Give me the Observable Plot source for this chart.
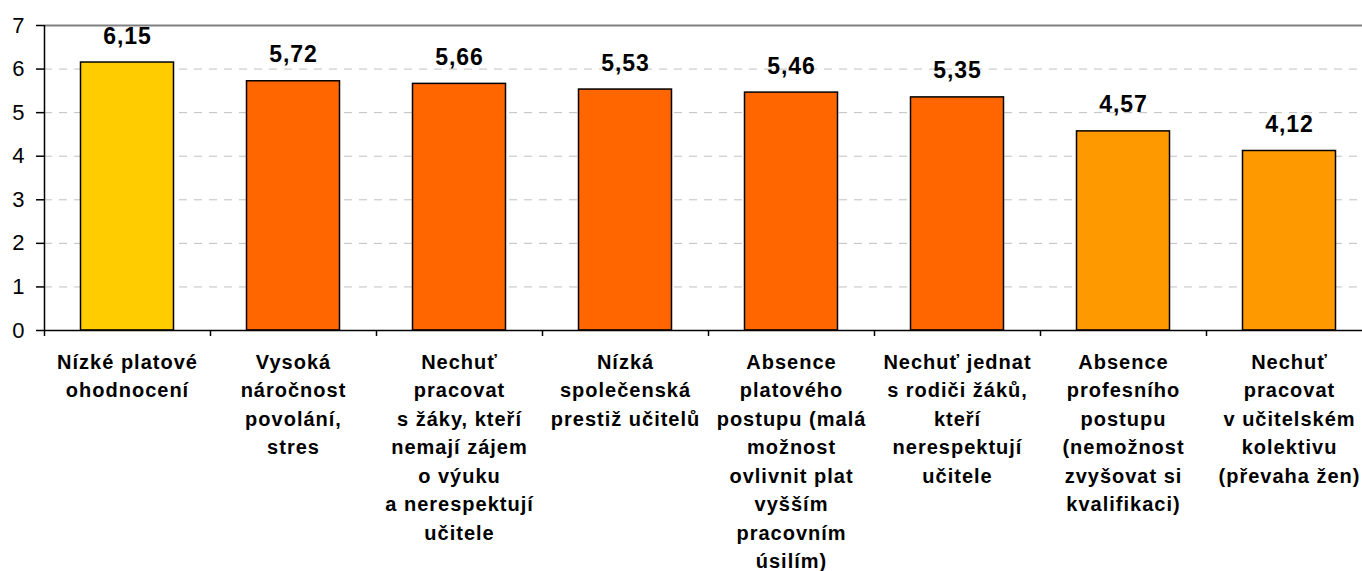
<!DOCTYPE html>
<html><head><meta charset="utf-8">
<script src="https://cdn.jsdelivr.net/npm/d3@7"></script>
<script src="https://cdn.jsdelivr.net/npm/@observablehq/plot@0.6"></script>
<style>
body{margin:0;background:#fff;}
#chart svg{display:block;font-family:"Liberation Sans",Arial,sans-serif;}
</style>
</head><body><div id="chart"></div>
<script>
const categories = [
  "Nízké platové\nohodnocení",
  "Vysoká\nnáročnost\npovolání,\nstres",
  "Nechuť\npracovat\ns žáky, kteří\nnemají zájem\no výuku\na nerespektují\nučitele",
  "Nízká\nspolečenská\nprestiž učitelů",
  "Absence\nplatového\npostupu (malá\nmožnost\novlivnit plat\nvyšším\npracovním\núsilím)",
  "Nechuť jednat\ns rodiči žáků,\nkteří\nnerespektují\nučitele",
  "Absence\nprofesního\npostupu\n(nemožnost\nzvyšovat si\nkvalifikaci)",
  "Nechuť\npracovat\nv učitelském\nkolektivu\n(převaha žen)"
];
const values = [6.15, 5.72, 5.66, 5.53, 5.46, 5.35, 4.57, 4.12];
const colors = ["#FFCC00", "#FF6600", "#FF6600", "#FF6600", "#FF6600", "#FF6600", "#FF9900", "#FF9900"];
const yTicks = [0, 1, 2, 3, 4, 5, 6, 7];
const gridTicks = [1, 2, 3, 4, 5, 6];

const W = 1362, H = 571, mL = 44, mR = -10, mT = 25, mB = 241;
const step = (W - mL - mR) / categories.length;
const barInset = 36.5;

const data = categories.map((c, i) => ({cat: c, value: values[i], color: colors[i]}));
const fmt = v => d3.format(".2f")(v).replace(".", ",");

const svg = Plot.plot({
  width: W, height: H,
  marginLeft: mL, marginRight: mR, marginTop: mT, marginBottom: mB,
  style: {fontFamily: '"Liberation Sans", Arial, sans-serif', background: "#fff", overflow: "visible"},
  x: {domain: categories, padding: 0, axis: null, label: null},
  y: {domain: [0, 7], axis: null, label: null},
  marks: [
    Plot.ruleY(gridTicks, {stroke: "#c0c0c0", strokeWidth: 1, strokeDasharray: "8,7"}),
    Plot.ruleY([7], {stroke: "#808080", strokeWidth: 2}),
    Plot.barY(data, {x: "cat", y: "value", fill: "color", stroke: "#000", strokeWidth: 1.5, insetLeft: barInset, insetRight: barInset}),
    Plot.ruleY([0], {stroke: "#000", strokeWidth: 1.5}),
    Plot.ruleX([categories[0]], {y1: 0, y2: 7, dx: -step / 2, stroke: "#000", strokeWidth: 1.5}),
    Plot.axisY({ticks: yTicks, label: null, tickSize: 8, stroke: "#000", strokeWidth: 1.5, tickFormat: () => ""}),
    Plot.text(yTicks, {y: d => d, text: d => String(d), frameAnchor: "left", textAnchor: "end", dx: -20, fontSize: 22, fill: "#000"}),
    Plot.axisX({ticks: categories, label: null, tickSize: 6, dx: -step / 2, stroke: "#000", strokeWidth: 1.5, tickFormat: () => ""}),
    Plot.text(data, {x: "cat", text: "cat", frameAnchor: "bottom", lineAnchor: "top", dy: 18, fontSize: 20, fontWeight: "bold", lineHeight: 1.425, fill: "#000", className: "xlab"}),
    Plot.text(data, {x: "cat", y: "value", text: d => fmt(d.value), lineAnchor: "bottom", dy: -19, fontSize: 23, fontWeight: "bold", fill: "#000", className: "vlab"})
  ]
});
d3.select(svg).selectAll('text').filter(function() { return d3.select(this).attr("font-weight") === "bold" || this.parentNode.getAttribute("font-weight") === "bold"; }).attr("letter-spacing", "1px");
document.getElementById("chart").appendChild(svg);
</script>
</body></html>
